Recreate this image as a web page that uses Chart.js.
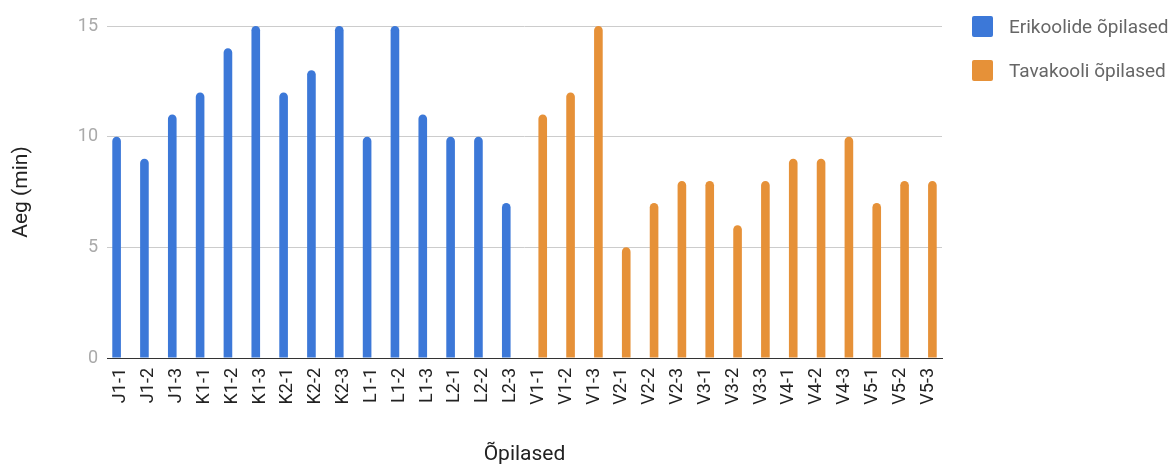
<!DOCTYPE html>
<html>
<head>
<meta charset="utf-8">
<script src="https://cdn.jsdelivr.net/npm/chart.js@4/dist/chart.umd.min.js"></script>
<style>
  body { margin: 0; background: #fff; }
  #wrap { position: relative; width: 1174px; height: 465px; }
  canvas { display: block; }
  #legend { position: absolute; left: 972px; top: 15px; font-family: Roboto; font-size: 19px; color: #666; }
  .item { display: flex; align-items: center; height: 22px; margin-bottom: 22px; white-space: nowrap; }
  .box { width: 21px; height: 21px; border-radius: 2px; margin-right: 16px; }
</style>
</head>
<body>
<div id="wrap">
<canvas id="grafik" width="1174" height="465"></canvas>
<div id="legend"></div>
</div>
<script>
var opilased = ['J1-1', 'J1-2', 'J1-3', 'K1-1', 'K1-2', 'K1-3', 'K2-1', 'K2-2', 'K2-3',
    'L1-1', 'L1-2', 'L1-3', 'L2-1', 'L2-2', 'L2-3',
    'V1-1', 'V1-2', 'V1-3', 'V2-1', 'V2-2', 'V2-3', 'V3-1', 'V3-2', 'V3-3',
    'V4-1', 'V4-2', 'V4-3', 'V5-1', 'V5-2', 'V5-3'];
var erikoolid = [10, 9, 11, 12, 14, 15, 12, 13, 15, 10, 15, 11, 10, 10, 7,
    null, null, null, null, null, null, null, null, null, null, null, null, null, null, null];
var tavakoolid = [null, null, null, null, null, null, null, null, null, null, null, null, null, null, null,
    11, 12, 15, 5, 7, 8, 8, 6, 8, 9, 9, 10, 7, 8, 8];
var yTicks = [0, 5, 10, 15];

var ctx = document.getElementById('grafik').getContext('2d');
const data = {
    labels: opilased,
    datasets: [{
        label: 'Erikoolide õpilased',
        data: erikoolid,
        backgroundColor: '#3c78d8',
        borderRadius: 5,
    }, {
        label: 'Tavakooli õpilased',
        data: tavakoolid,
        backgroundColor: '#e69138',
        borderRadius: 5,
    }],
};
const config = {
    type: 'bar',
    data: data,
    options: {
        responsive: false,
        animation: false,
        categoryPercentage: 0.62,
        barPercentage: 1.0,
        layout: { padding: { top: 26, right: 232, left: 0, bottom: 0 } },
        plugins: {
            tooltip: { enabled: false },
            legend: { display: false },
        },
        scales: {
            x: {
                grid: { display: false, drawTicks: false },
                border: { color: '#333', width: 1 },
                ticks: {
                    color: '#222',
                    font: { family: 'Roboto', size: 18 },
                    maxRotation: 90,
                    minRotation: 90,
                    padding: 10,
                    autoSkip: false,
                },
                title: {
                    display: true,
                    text: 'Õpilased',
                    color: '#222',
                    font: { family: 'Roboto', size: 21, lineHeight: 1.0 },
                    padding: { top: 0, bottom: 0 },
                },
                afterFit: function (scale) { scale.height = 107; },
            },
            y: {
                min: 0,
                max: 15,
                afterBuildTicks: function (scale) {
                    scale.ticks = yTicks.map(function (v) { return { value: v }; });
                },
                grid: { color: '#cccccc', drawTicks: false },
                border: { display: false },
                ticks: {
                    color: '#aaa',
                    font: { family: 'Roboto', size: 18 },
                    padding: 9,
                },
                title: {
                    display: true,
                    text: 'Aeg (min)',
                    color: '#222',
                    font: { family: 'Roboto', size: 21 },
                    padding: { top: 9, bottom: 0 },
                },
                afterFit: function (scale) { scale.width = 107; },
            },
        },
    },
};
var grafik = new Chart(ctx, config);

// legend built from the datasets
var legend = document.getElementById('legend');
grafik.data.datasets.forEach(function (ds) {
    var item = document.createElement('div');
    item.className = 'item';
    var box = document.createElement('span');
    box.className = 'box';
    box.style.background = ds.backgroundColor;
    var txt = document.createElement('span');
    txt.textContent = ds.label;
    item.appendChild(box);
    item.appendChild(txt);
    legend.appendChild(item);
});
</script>
</body>
</html>
